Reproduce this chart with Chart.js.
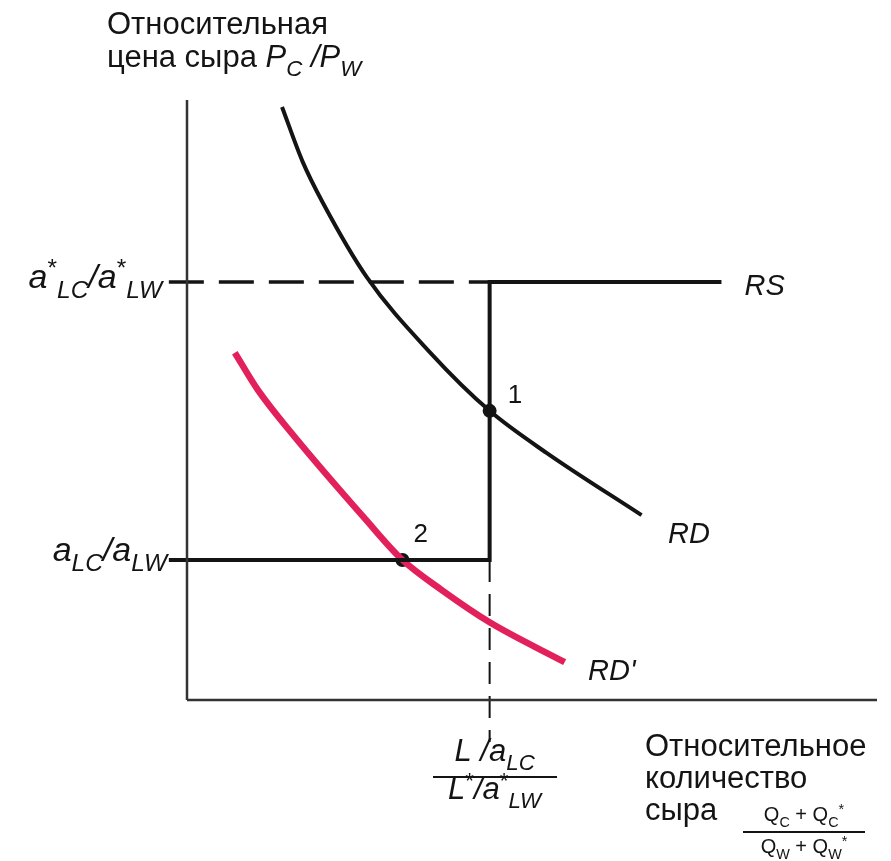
<!DOCTYPE html>
<html>
<head>
<meta charset="utf-8">
<script src="https://cdn.jsdelivr.net/npm/chart.js@4.4.1/dist/chart.umd.min.js"></script>
<style>
  body { margin: 0; background: #fff; }
  #wrap { width: 891px; height: 861px; }
</style>
</head>
<body>
<div id="wrap"><canvas id="chart" width="891" height="861"></canvas></div>
<script>
// axis extents (relative quantity, relative price)
const xMax = 11.4;
const yMax = 8.57;

// relative supply RS: two price levels and the kink quantity
const rsLow = 2.0;      // a_LC / a_LW
const rsHigh = 5.97;    // a*_LC / a*_LW
const rsKinkX = 5.0;    // (L/a_LC) / (L*/a*_LW)
const rsEndX = 8.83;

// relative demand RD (black)
const rdX = [1.57, 1.91, 2.24, 2.97, 4.01, 5.0, 5.94, 7.51];
const rdY = [8.47, 7.69, 7.11, 6.04, 4.97, 4.13, 3.53, 2.64];

// shifted relative demand RD' (red)
const rd2X = [0.79, 1.17, 1.73, 2.94, 3.56, 4.21, 5.0, 6.24];
const rd2Y = [4.96, 4.43, 3.81, 2.59, 2.0, 1.57, 1.11, 0.54];

// equilibrium points
const eqX = [5.0, 3.56];
const eqY = [4.13, 2.0];
const eqLabels = ['1', '2'];

const FONT = '"Liberation Sans", Arial, sans-serif';
const INK = '#141414';
const RED = '#e2215c';

function pts(xs, ys) {
    return xs.map(function (x, i) { return {x: x, y: ys[i]}; });
}

function lineSet(data, color, width, dash) {
    return {
        data: data,
        showLine: true,
        borderColor: color,
        borderWidth: width,
        borderDash: dash || [],
        pointRadius: 0,
        fill: false,
        clip: false,
        borderCapStyle: 'butt'
    };
}

// draw a run of text pieces (italic / sub / sup) starting at x, baseline y
function rich(ctx, x, y, runs, size, align, subScale) {
    const k = subScale || 0.72;
    let total = 0;
    runs.forEach(function (r) {
        const s = r.sub || r.sup ? size * k : size;
        ctx.font = (r.it ? 'italic ' : '') + s + 'px ' + FONT;
        r.w = ctx.measureText(r.t).width;
        r.s = s;
        total += r.w;
    });
    let cx = align === 'right' ? x - total : (align === 'center' ? x - total / 2 : x);
    runs.forEach(function (r) {
        ctx.font = (r.it ? 'italic ' : '') + r.s + 'px ' + FONT;
        let dy = 0;
        if (r.sub) dy = size * 0.3;
        if (r.sup) dy = -size * 0.36;
        ctx.fillText(r.t, cx, y + dy);
        cx += r.w;
    });
    return total;
}

const labelPlugin = {
    id: 'labels',
    afterDatasetsDraw: function (chart) {
        const ctx = chart.ctx;
        const xs = chart.scales.x, ys = chart.scales.y;
        const px = function (v) { return xs.getPixelForValue(v); };
        const py = function (v) { return ys.getPixelForValue(v); };
        ctx.save();
        ctx.fillStyle = INK;
        ctx.textBaseline = 'alphabetic';

        // y-axis title
        rich(ctx, 107, 34, [{t: 'Относительная'}], 31);
        rich(ctx, 107, 67, [{t: 'цена сыра '}, {t: 'P', it: 1}, {t: 'C', it: 1, sub: 1},
            {t: ' /P', it: 1}, {t: 'W', it: 1, sub: 1}], 31);

        // price tick labels
        rich(ctx, px(0) - 25, py(rsHigh) + 6, [{t: 'a', it: 1}, {t: '*', sup: 1}, {t: 'LC', it: 1, sub: 1},
            {t: '/a', it: 1}, {t: '*', sup: 1}, {t: 'LW', it: 1, sub: 1}], 34, 'right', 0.72);
        rich(ctx, px(0) - 20, py(rsLow) + 1, [{t: 'a', it: 1}, {t: 'LC', it: 1, sub: 1},
            {t: '/a', it: 1}, {t: 'LW', it: 1, sub: 1}], 34, 'right', 0.72);

        // curve names
        rich(ctx, px(rsEndX) + 23, py(rsHigh) + 13, [{t: 'RS', it: 1}], 29);
        rich(ctx, 668, 543, [{t: 'RD', it: 1}], 29);
        rich(ctx, 588, 680, [{t: "RD'", it: 1}], 29);

        // equilibrium numbers
        ctx.font = '26px ' + FONT;
        ctx.fillText(eqLabels[0], px(eqX[0]) + 18, py(eqY[0]) - 8);
        ctx.fillText(eqLabels[1], px(eqX[1]) + 11, py(eqY[1]) - 18);

        // quantity tick label as a fraction
        const qx = px(rsKinkX) + 5;
        rich(ctx, qx, 761, [{t: 'L /a', it: 1}, {t: 'LC', it: 1, sub: 1}], 31, 'center');
        ctx.fillRect(433, 776, 124, 2);
        rich(ctx, qx, 799, [{t: 'L', it: 1}, {t: '*', sup: 1}, {t: '/a', it: 1}, {t: '*', sup: 1},
            {t: 'LW', it: 1, sub: 1}], 31, 'center');

        // x-axis title
        rich(ctx, 645, 756, [{t: 'Относительное'}], 31);
        rich(ctx, 645, 788, [{t: 'количество'}], 31);
        rich(ctx, 645, 820, [{t: 'сыра'}], 31);
        rich(ctx, 804, 821, [{t: 'Q'}, {t: 'C', sub: 1}, {t: ' + Q'}, {t: 'C', sub: 1}, {t: '*', sup: 1}], 20, 'center');
        ctx.fillRect(743, 831, 122, 2);
        rich(ctx, 804, 853, [{t: 'Q'}, {t: 'W', sub: 1}, {t: ' + Q'}, {t: 'W', sub: 1}, {t: '*', sup: 1}], 20, 'center');

        ctx.restore();
    }
};

new Chart(document.getElementById('chart'), {
    type: 'scatter',
    data: {
        datasets: [
            // axes
            lineSet([{x: 0, y: 0}, {x: 0, y: yMax}], '#333', 2.5),
            lineSet([{x: 0, y: 0}, {x: xMax, y: 0}], '#333', 2.5),
            // dashed guides
            lineSet([{x: -0.3, y: rsHigh}, {x: rsKinkX, y: rsHigh}], INK, 3.5, [35, 15]),
            lineSet([{x: rsKinkX, y: rsLow}, {x: rsKinkX, y: -0.6}], INK, 2, [22, 12]),
            // RS
            lineSet([{x: -0.3, y: rsLow}, {x: rsKinkX, y: rsLow}, {x: rsKinkX, y: rsHigh}, {x: rsEndX, y: rsHigh}], INK, 4),
            // RD and RD'
            Object.assign(lineSet(pts(rdX, rdY), INK, 4), {cubicInterpolationMode: 'monotone'}),
            Object.assign(lineSet(pts(rd2X, rd2Y), RED, 6.5), {cubicInterpolationMode: 'monotone'}),
            // equilibria
            {
                data: pts(eqX, eqY),
                pointRadius: 7,
                pointBackgroundColor: INK,
                pointBorderWidth: 0,
                showLine: false,
                clip: false
            }
        ]
    },
    options: {
        responsive: false,
        animation: false,
        layout: {padding: {left: 187, right: 14, top: 100, bottom: 161}},
        plugins: {legend: {display: false}, tooltip: {enabled: false}},
        scales: {
            x: {type: 'linear', min: 0, max: xMax, display: false},
            y: {type: 'linear', min: 0, max: yMax, display: false}
        }
    },
    plugins: [labelPlugin]
});
</script>
</body>
</html>
